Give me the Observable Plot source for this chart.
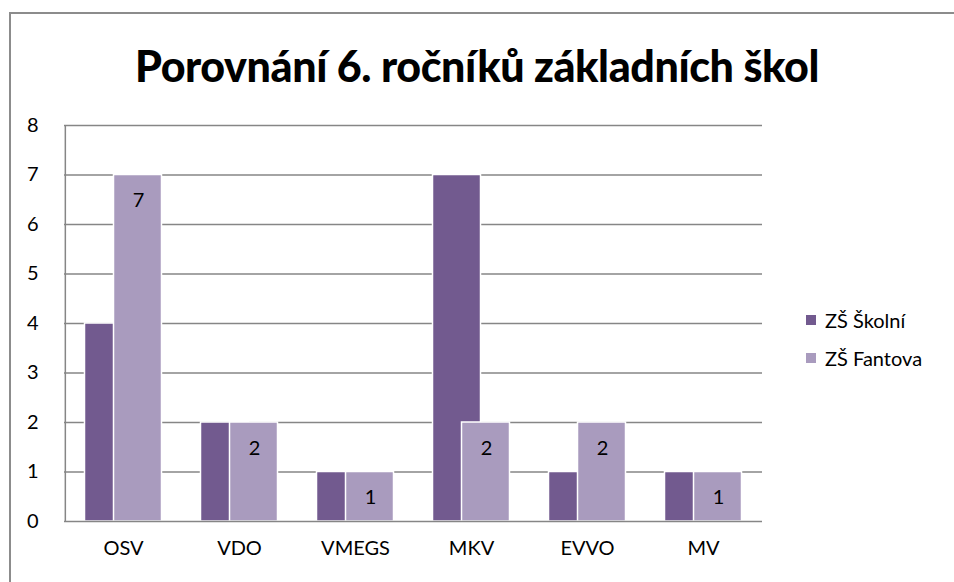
<!DOCTYPE html>
<html><head><meta charset="utf-8">
<script src="https://cdn.jsdelivr.net/npm/d3@7"></script>
<script src="https://cdn.jsdelivr.net/npm/@observablehq/plot@0.6"></script>
<style>
body{margin:0;background:#fff;font-family:Lato,"Open Sans",sans-serif;}
#wrap{position:relative;width:954px;height:582px;overflow:hidden;}
#frame{position:absolute;left:9px;top:12px;width:960px;height:600px;border-top:2px solid #8c8c8c;border-left:2px solid #8c8c8c;box-sizing:border-box;}
#title{position:absolute;left:0;width:954px;top:40px;text-align:center;font-weight:900;font-size:43px;color:#000;letter-spacing:-0.4px;}
#chart{position:absolute;left:0;top:0;}
#legend{position:absolute;left:806px;top:301px;font-size:20px;color:#000;}
#legend div{display:flex;align-items:center;height:38px;}
#legend span.sw{display:inline-block;width:10px;height:10px;margin-right:9px;}
</style></head>
<body><div id="wrap"><div id="frame"></div><div id="title">Porovnání 6. ročníků základních škol</div><div id="chart"></div><div id="legend"></div></div>
<script>
const categories = ["OSV","VDO","VMEGS","MKV","EVVO","MV"];
const seriesNames = ["ZŠ Školní","ZŠ Fantova"];
const skolni = [4,2,1,7,1,1];
const fantova = [7,2,1,2,2,1];
const yTicks = [0,1,2,3,4,5,6,7,8];
const colors = ["#725a8f","#a99bbe"];

const data = [];
categories.forEach((c,i)=>{
  data.push({cat:c, series:seriesNames[0], value:skolni[i], idx:0});
  data.push({cat:c, series:seriesNames[1], value:fantova[i], idx:1});
});

const bandW = (762-64)/6;
const barW = 48, offset = 29;
const plot = Plot.plot({
  width:954, height:582,
  marginLeft:64, marginRight:192, marginTop:125, marginBottom:61,
  style:{fontFamily:"Lato, 'Open Sans', sans-serif", background:"transparent", overflow:"visible"},
  x:{domain:categories, padding:0, axis:null},
  y:{domain:[0,8], axis:null},
  color:{domain:seriesNames, range:colors},
  marks:[
    Plot.ruleY(yTicks.slice(1), {y:d=>d, stroke:"#868686", strokeWidth:1.5, strokeOpacity:1}),
    Plot.ruleX([categories[0]], {x:d=>d, dx:-bandW/2, y1:0, y2:8, stroke:"#868686", strokeWidth:1.5, strokeOpacity:1}),
    Plot.text(yTicks, {y:d=>d, frameAnchor:"left", dx:-26, text:d=>String(d), textAnchor:"end", fontSize:20, fill:"#000"}),
    Plot.rect(data, {x:"cat", y1:0, y2:"value", fill:"series", stroke:"white", strokeWidth:1.5}),
    Plot.ruleY([0], {y:d=>d, stroke:"#868686", strokeWidth:1.5, strokeOpacity:1}),
    Plot.text(categories, {x:d=>d, y:()=>0, dy:27, text:d=>d, fontSize:20, fill:"#000"}),
    Plot.text(data.filter(d=>d.idx===1), {x:"cat", y:"value", dx:offset/2+0.5, dy:26, text:d=>String(d.value), fontSize:20, fill:"#000"})
  ]
});
// overlap bars like the original: each bar 48px wide, second series shifted right
const xs = plot.scale("x");
d3.select(plot).selectAll("g[aria-label=rect] rect").each(function(_,i){
  const d = data[i];
  const center = xs.apply(d.cat) + xs.bandwidth/2;
  const left = center - (barW+offset)/2 + d.idx*offset;
  d3.select(this).attr("x", left).attr("width", barW);
});
document.getElementById("chart").appendChild(plot);

const lg = document.getElementById("legend");
seriesNames.forEach((s,i)=>{
  const row=document.createElement("div");
  row.innerHTML=`<span class="sw" style="background:${colors[i]}"></span>${s}`;
  lg.appendChild(row);
});
</script>
</body></html>
